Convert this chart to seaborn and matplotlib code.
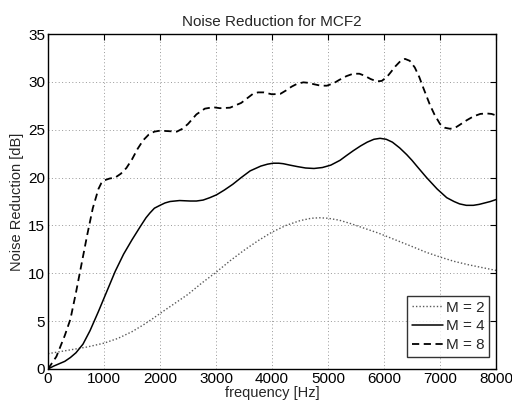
import matplotlib
matplotlib.use("Agg")
import matplotlib.pyplot as plt
import seaborn as sns
import numpy as np

freq_m2 = [0, 200, 400, 700, 1000, 1250, 1500, 1700, 1880, 2000, 2250, 2500, 2750, 3000, 3250, 3500, 3750, 4000, 4250, 4500, 4700, 4850, 5000, 5200, 5400, 5650, 5900, 6200, 6500, 6750, 7000, 7250, 7500, 7750, 8000]
nr_m2 = [1.6, 1.8, 2.0, 2.3, 2.7, 3.2, 3.9, 4.6, 5.3, 5.8, 6.8, 7.8, 9.0, 10.1, 11.3, 12.4, 13.4, 14.3, 15.0, 15.5, 15.75, 15.8, 15.75, 15.55, 15.2, 14.7, 14.2, 13.5, 12.8, 12.2, 11.7, 11.25, 10.9, 10.6, 10.3]

freq_m4 = [0, 100, 200, 300, 400, 500, 625, 750, 900, 1000, 1100, 1200, 1350, 1500, 1650, 1750, 1820, 1900, 2000, 2090, 2180, 2350, 2540, 2650, 2770, 2890, 3010, 3150, 3300, 3450, 3610, 3800, 3920, 4020, 4120, 4200, 4320, 4450, 4600, 4750, 4900, 5050, 5214, 5330, 5450, 5580, 5700, 5820, 5930, 6040, 6150, 6280, 6405, 6500, 6600, 6760, 6950, 7120, 7250, 7350, 7470, 7595, 7700, 7800, 7900, 8000]
nr_m4 = [0.0, 0.3, 0.55, 0.8, 1.2, 1.7, 2.6, 4.0, 6.0, 7.4, 8.8, 10.2, 12.0, 13.5, 14.9, 15.8, 16.3, 16.8, 17.1, 17.35, 17.5, 17.6, 17.55, 17.55, 17.65, 17.9, 18.2, 18.7, 19.3, 20.0, 20.7, 21.2, 21.4, 21.5, 21.5, 21.45, 21.3, 21.15, 21.0, 20.95, 21.05, 21.3, 21.8, 22.3, 22.8, 23.3, 23.7, 24.0, 24.1, 24.0, 23.7, 23.1, 22.4, 21.8, 21.1, 20.0, 18.8, 17.9, 17.5, 17.25, 17.1, 17.1, 17.2, 17.35, 17.5, 17.7]

freq_m8 = [0, 150, 300, 400, 500, 600, 700, 800, 900, 950, 1000, 1100, 1200, 1300, 1400, 1500, 1600, 1700, 1800, 1900, 2000, 2150, 2300, 2400, 2500, 2650, 2800, 2950, 3070, 3250, 3450, 3560, 3660, 3750, 3850, 4000, 4150, 4250, 4350, 4450, 4560, 4650, 4750, 4870, 4980, 5100, 5200, 5330, 5450, 5560, 5650, 5760, 5870, 5960, 6050, 6120, 6200, 6290, 6375, 6460, 6550, 6630, 6700, 6760, 6820, 6900, 7000, 7090, 7180, 7270, 7350, 7480, 7600, 7720, 7830, 7920, 8000]
nr_m8 = [0.0, 1.3, 3.5, 5.2, 8.0, 11.0, 14.0, 16.8, 18.8, 19.4, 19.7, 19.9, 20.0, 20.4, 21.0, 21.9, 23.0, 23.9, 24.5, 24.8, 24.9, 24.85, 24.8, 25.1, 25.6, 26.6, 27.2, 27.35, 27.25, 27.3, 27.8, 28.3, 28.75, 28.9, 28.9, 28.7, 28.75, 29.1, 29.5, 29.8, 29.95, 29.9, 29.75, 29.6, 29.6, 29.85, 30.2, 30.6, 30.85, 30.85, 30.65, 30.3, 30.05, 30.1, 30.5, 31.0, 31.6, 32.15, 32.4, 32.2, 31.5, 30.5, 29.4, 28.5, 27.6, 26.6, 25.6, 25.2, 25.1, 25.2, 25.5, 26.0, 26.4, 26.65, 26.7, 26.65, 26.5]

title = "Noise Reduction for MCF2"
xlabel = "frequency [Hz]"
ylabel = "Noise Reduction [dB]"
labels = ["M = 2", "M = 4", "M = 8"]

sns.set_theme(style="white")
plt.rcParams['font.family'] = ['Liberation Sans', 'DejaVu Sans']
plt.rcParams['xtick.direction'] = 'in'
plt.rcParams['ytick.direction'] = 'in'

fig = plt.figure(figsize=(5.12, 4.05), dpi=100)
ax = fig.add_axes([48/512, 1-369/405, 448/512, 335/405])

sns.lineplot(x=freq_m2, y=nr_m2, ax=ax, color='0.35', linewidth=1.0, label=labels[0])
sns.lineplot(x=freq_m4, y=nr_m4, ax=ax, color='black', linewidth=1.1, label=labels[1])
sns.lineplot(x=freq_m8, y=nr_m8, ax=ax, color='black', linewidth=1.3, label=labels[2])
lines = ax.get_lines()
lines[0].set_linestyle((0, (1, 1.5)))
lines[2].set_linestyle((0, (4, 2.5)))

ax.set_xlim(0, 8000)
ax.set_ylim(0, 35)
ax.set_xticks(np.arange(0, 8001, 1000))
ax.set_yticks(np.arange(0, 36, 5))
ax.grid(True, color='0.6', linestyle=(0, (1, 2.5)), linewidth=0.7)
for s in ax.spines.values():
    s.set_color('black')
    s.set_linewidth(1.0)
ax.tick_params(axis='both', which='both', length=4, width=0.8, colors='black',
               labelsize=11, top=True, right=True, pad=2, labelcolor='black')
ax.set_title(title, fontsize=11, pad=6)
ax.set_xlabel(xlabel, fontsize=10.5, labelpad=0)
ax.set_ylabel(ylabel, fontsize=10.5, labelpad=3)

leg = ax.legend(loc='lower right', bbox_to_anchor=(0.984, 0.036), fontsize=11,
                frameon=True, fancybox=False, edgecolor='black', borderaxespad=0.0,
                handlelength=2.0, handletextpad=0.2, borderpad=0.3, labelspacing=0.32)
leg.get_frame().set_linewidth(1.0)

fig.savefig("out.png", dpi=100, facecolor='white')
